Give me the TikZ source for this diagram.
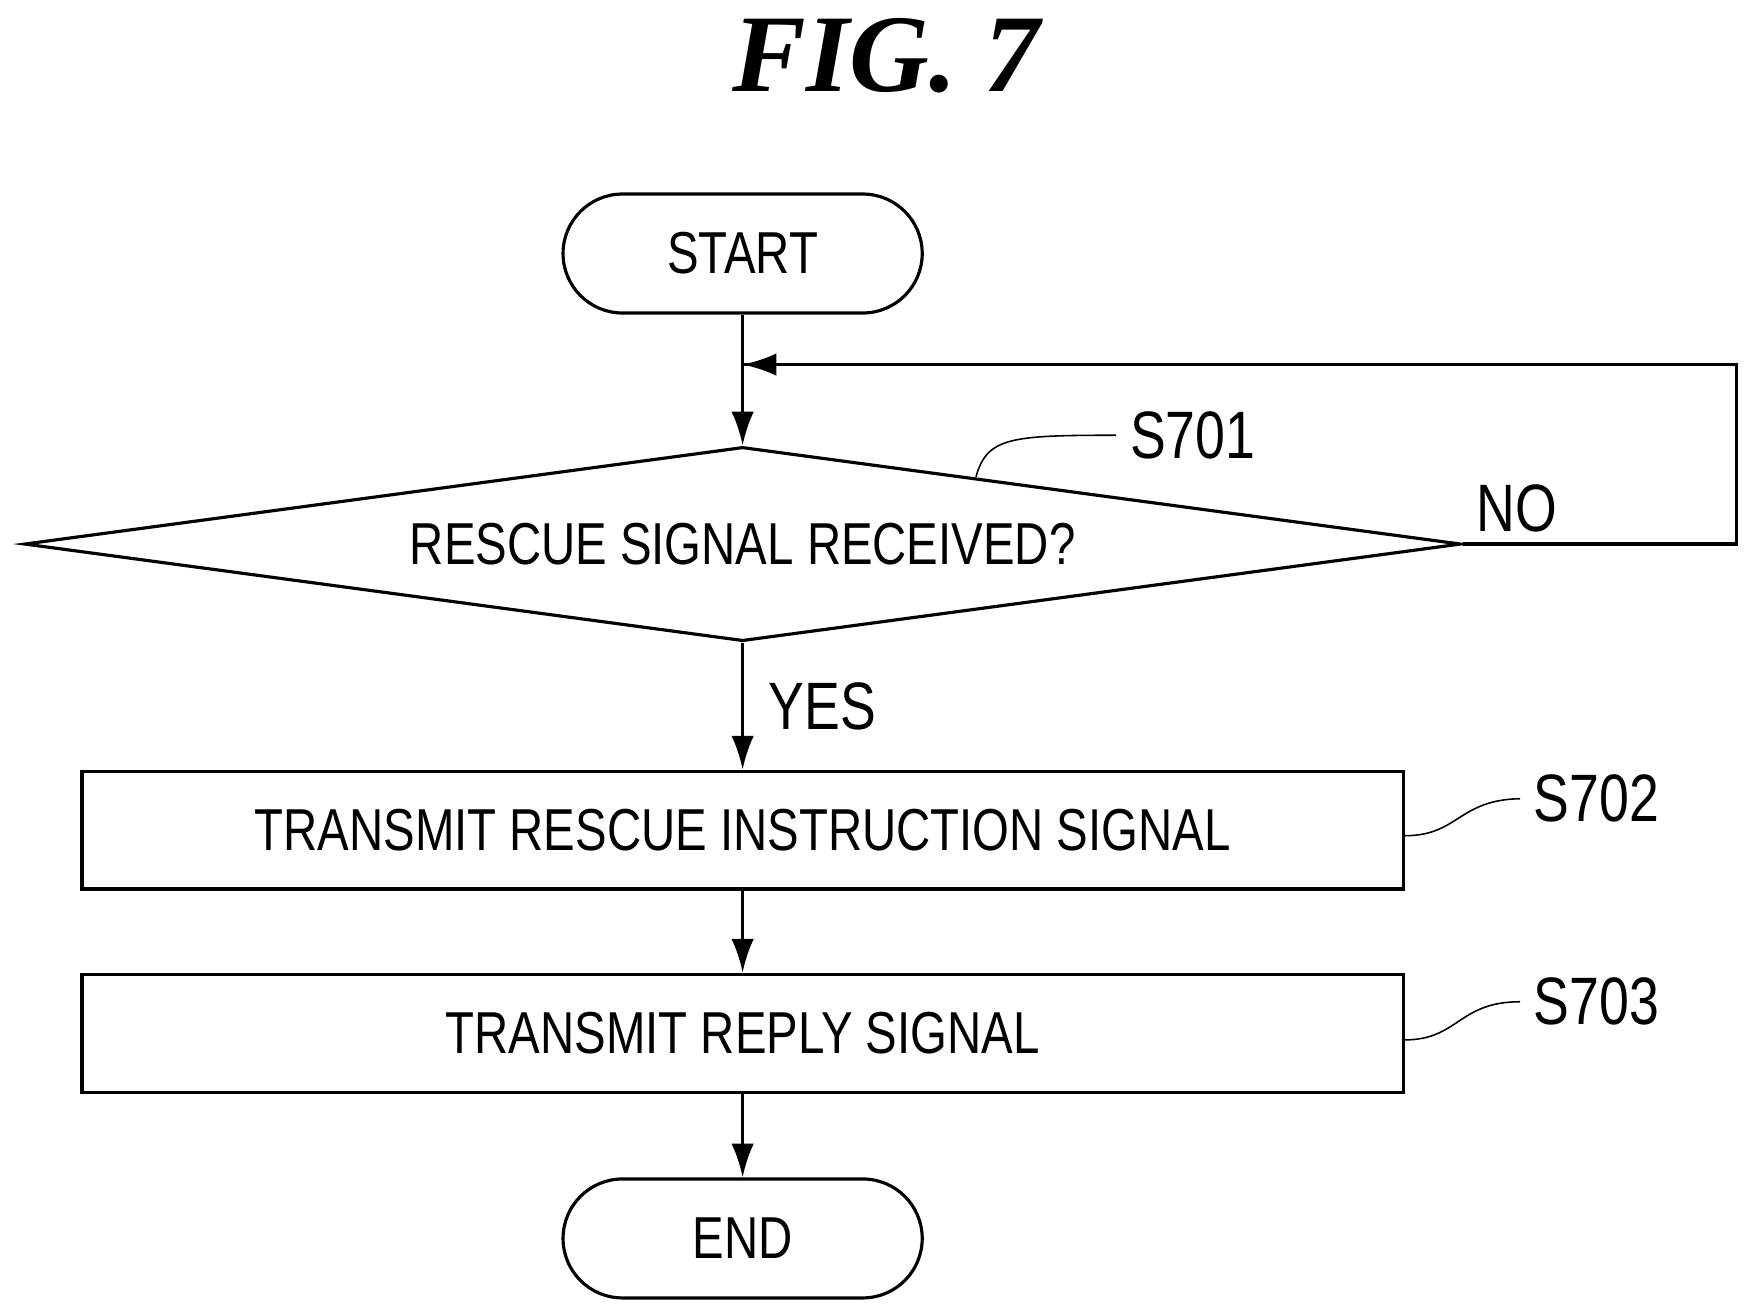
\documentclass[tikz,border=0pt]{standalone}
\usepackage{fontspec}
\setmainfont{Liberation Sans}[FakeStretch=0.8]
\newfontfamily\figfont{Liberation Serif}
\usetikzlibrary{shapes.geometric, arrows.meta}

\tikzset{
  term/.style={rectangle, rounded corners=0.53cm, draw, thick, minimum width=3.2cm, minimum height=1.06cm},
  proc/.style={rectangle, draw, thick, minimum width=11.77cm, minimum height=1.05cm},
  dec/.style={diamond, draw, thick, aspect=7.4, inner sep=0pt, minimum width=12.8cm, minimum height=1.73cm},
  flow/.style={thick, -{Latex[length=3mm, width=2mm]}},
  lbl/.style={font=\fontsize{17}{20}\selectfont}
}

\begin{document}
\begin{tikzpicture}[x=0.01cm, y=-0.01cm, font=\fontsize{15}{18}\selectfont]
\useasboundingbox (0,0) rectangle (1560,1171);
\node (fig) at (790,50) {\figfont\fontsize{28}{34}\selectfont\bfseries\itshape FIG. 7};
\node[term] (start) at (662,226) {START};
\node[dec] (recv) at (662,485) {RESCUE SIGNAL RECEIVED?};
\node[proc] (inst) at (662,740) {TRANSMIT RESCUE INSTRUCTION SIGNAL};
\node[proc] (reply) at (662,921) {TRANSMIT REPLY SIGNAL};
\node[term] (end) at (662,1104) {END};
\coordinate (loopA) at (1548,485);
\coordinate (loopB) at (1548,325);
\coordinate (join) at (662,325);
\draw[flow] (start) -- (recv);
\draw[thick] (recv.east) -- (loopA) -- (loopB) -- (join);
\draw[flow] (loopB) -- (join);
\draw[flow] (recv) -- node[right, lbl, xshift=0.1cm] {YES} (inst);
\draw[flow] (inst) -- (reply);
\draw[flow] (reply) -- (end);
\node[lbl] (no) at (1352,453) {NO};
% step labels
\node[lbl, anchor=west] (s701) at (995,388) {S701};
\node[lbl, anchor=west] (s702) at (1355,712) {S702};
\node[lbl, anchor=west] (s703) at (1355,893) {S703};
\draw (870,425) .. controls (880,390) and (900,388) .. (s701.west);
\draw (inst.east |- 0,745) .. controls (1300,745) and (1300,713) .. (s702.west);
\draw (reply.east |- 0,927) .. controls (1300,927) and (1300,893) .. (s703.west);
\end{tikzpicture}
\end{document}
